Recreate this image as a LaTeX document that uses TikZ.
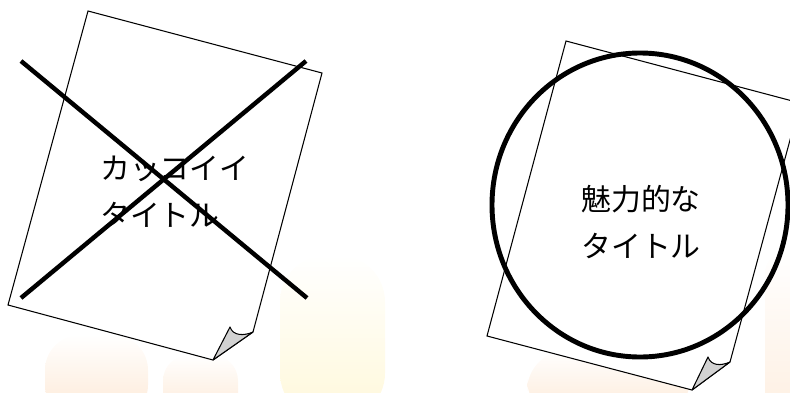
\documentclass[tikz,border=0pt]{standalone}
\usepackage{fontspec}
\usepackage{tikz}
\newfontfamily\jpfont{Noto Sans CJK JP}
\definecolor{softorange}{RGB}{253,232,212}
\definecolor{softyellow}{RGB}{255,248,218}
\definecolor{foldgray}{RGB}{210,210,210}
\begin{document}
\begin{tikzpicture}[
  x=0.03cm, y=-0.03cm,
  page/.style={draw, fill=white, line width=0.9pt, line join=miter},
  fold/.style={draw, fill=foldgray, line width=0.9pt, line join=round},
  cross/.style={line width=3.8pt},
  ring/.style={line width=4.2pt},
  title/.style={font=\jpfont\fontsize{25.5}{40}\selectfont, inner sep=0pt}
]
  \useasboundingbox (0,0) rectangle (790,392);
  \shade[top color=white, bottom color=softorange, rounded corners=30pt] (45,335) rectangle (148,420);
  \shade[top color=white, bottom color=softorange, rounded corners=22pt] (163,355) rectangle (238,420);
  \shade[top color=white, bottom color=softyellow, rounded corners=40pt] (280,255) rectangle (385,420);
  \shade[top color=white, bottom color=softorange, rounded corners=35pt] (527,350) rectangle (690,420);
  \shade[top color=white, bottom color=softorange!70, rounded corners=20pt] (765,250) rectangle (810,420);

  \coordinate (lt) at (88,11);
  \coordinate (rt) at (322,73);
  \coordinate (re) at (253,332);
  \coordinate (lc) at (213,360);
  \coordinate (lb) at (8,305);
  \coordinate (ltip) at (230,327);
  \draw[page] (lt) -- (rt) -- (re) -- (lc) -- (lb) -- cycle;
  \draw[fold] (lc) -- (ltip) .. controls (233,336) and (244,336) .. (re) -- cycle;
  \node[title, align=left, anchor=west] (bad) at (100,192) {カッコイイ\\タイトル};
  \draw[cross] (21,61) -- (307,298);
  \draw[cross] (306,61) -- (21,298);

  \coordinate (ut) at (566,41);
  \coordinate (ur) at (800,103);
  \coordinate (ue) at (730,362);
  \coordinate (uc) at (692,390);
  \coordinate (ub) at (487,336);
  \coordinate (utip) at (708,357);
  \draw[page] (ut) -- (ur) -- (ue) -- (uc) -- (ub) -- cycle;
  \draw[fold] (uc) -- (utip) .. controls (711,366) and (721,366) .. (ue) -- cycle;
  \node[title, align=center] (good) at (641,222) {魅力的な\\タイトル};
  \draw[ring] (640,205) ellipse [x radius=148, y radius=152];
\end{tikzpicture}
\end{document}
